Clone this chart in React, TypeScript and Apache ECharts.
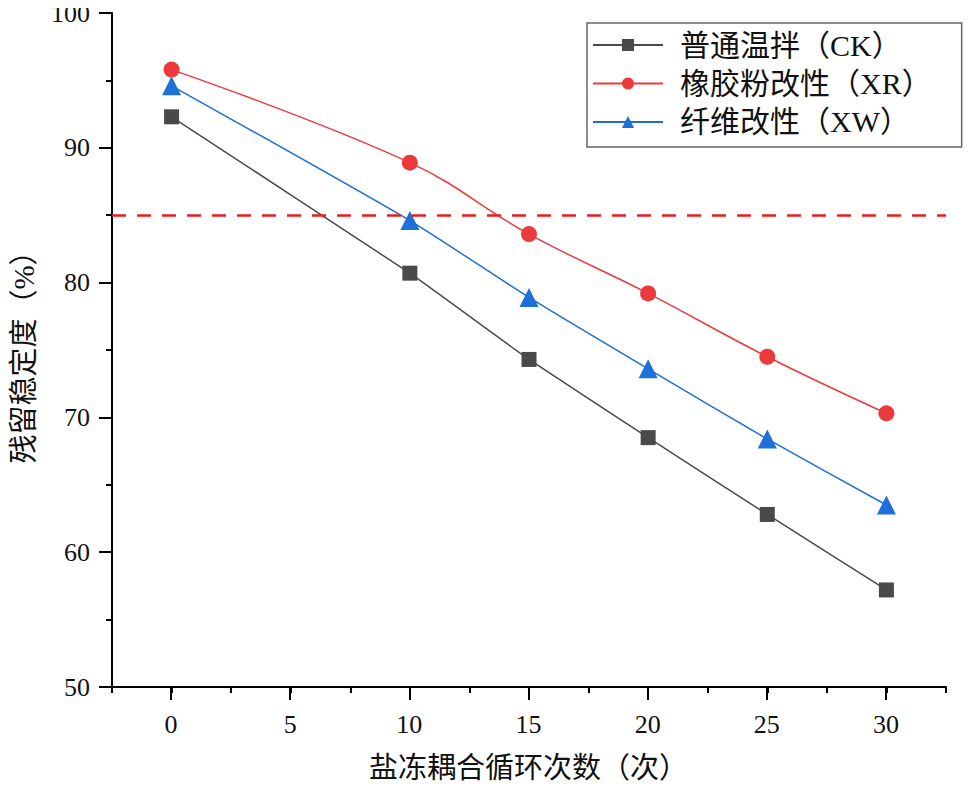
import React, { useEffect, useRef } from "react";
import * as echarts from "echarts";

const cycles = [0, 10, 15, 20, 25, 30];
const ckValues = [92.3, 80.7, 74.3, 68.5, 62.8, 57.2];
const xrValues = [95.8, 88.9, 83.6, 79.2, 74.5, 70.3];
const xwValues = [94.6, 84.6, 78.9, 73.6, 68.4, 63.5];
const seriesNames = ["普通温拌（CK）", "橡胶粉改性（XR）", "纤维改性（XW）"];
const thresholdValue = 85;
const xAxisName = "盐冻耦合循环次数（次）";
const yAxisName = "残留稳定度（%）";

const FONT = "'Liberation Serif', 'Noto Sans CJK SC', serif";

export default function App() {
  const ref = useRef<HTMLDivElement>(null);
  useEffect(() => {
    if (!ref.current) return;
    const chart = echarts.init(ref.current, undefined, { renderer: "svg" });
    const pair = (vals: number[]) => cycles.map((c, i) => [c, vals[i]]);
    const tickLabel = { fontSize: 26, color: "#111", fontFamily: FONT };
    chart.setOption({
      animation: false,
      backgroundColor: "#ffffff",
      textStyle: { fontFamily: FONT },
      grid: [
        { left: 112, right: 25, top: 12, bottom: 103 },
        { left: 171, right: 85, top: 12, bottom: 103 },
      ],
      legend: {
        orient: "vertical",
        left: 587,
        top: 23,
        width: 377,
        padding: [7, 30, 10, 5],
        itemGap: 8.5,
        itemWidth: 70,
        itemHeight: 15,
        borderColor: "#666",
        borderWidth: 1.5,
        textStyle: { fontSize: 30, color: "#111", fontFamily: FONT, padding: [0, 0, 0, 12] },
        data: seriesNames,
      },
      xAxis: [
        {
          type: "value",
          gridIndex: 0,
          min: -2.5,
          max: 32.5,
          interval: 2.5,
          axisLine: { show: true, onZero: false, lineStyle: { color: "#000", width: 2 } },
          axisTick: { show: true, length: 6, lineStyle: { color: "#000", width: 2 } },
          axisLabel: { show: false },
          splitLine: { show: false },
        },
        {
          type: "value",
          gridIndex: 1,
          min: 0,
          max: 30,
          interval: 5,
          axisLine: { show: false, onZero: false },
          axisTick: { show: true, length: 13, lineStyle: { color: "#000", width: 2 } },
          axisLabel: { show: true, margin: 24, ...tickLabel },
          splitLine: { show: false },
          name: xAxisName,
          nameLocation: "middle",
          nameGap: 66,
          nameMoveOverlap: false,
          nameTextStyle: { fontSize: 29, color: "#111", fontFamily: FONT },
        },
      ],
      yAxis: [
        {
          type: "value",
          gridIndex: 0,
          min: 50,
          max: 100,
          interval: 10,
          axisLine: { show: true, onZero: false, lineStyle: { color: "#000", width: 2 } },
          axisTick: { show: true, length: 13, lineStyle: { color: "#000", width: 2 } },
          minorTick: { show: true, splitNumber: 2, length: 6, lineStyle: { color: "#000", width: 2 } },
          axisLabel: { margin: 22, ...tickLabel },
          splitLine: { show: false },
          name: yAxisName,
          nameLocation: "middle",
          nameGap: 74,
          nameRotate: 90,
          nameMoveOverlap: false,
          nameTextStyle: { fontSize: 29, color: "#111", fontFamily: FONT },
        },
        {
          type: "value",
          gridIndex: 1,
          min: 50,
          max: 100,
          show: false,
          axisLine: { show: false, onZero: false },
          axisTick: { show: false },
          axisLabel: { show: false },
          splitLine: { show: false },
        },
      ],
      series: [
        {
          name: seriesNames[0],
          type: "line",
          xAxisIndex: 0,
          yAxisIndex: 0,
          data: pair(ckValues),
          smooth: 0.1,
          symbol: "rect",
          symbolSize: 15,
          itemStyle: { color: "#4a4a4a" },
          lineStyle: { color: "#4a4a4a", width: 1.5 },
          markLine: {
            silent: true,
            symbol: "none",
            label: { show: false },
            lineStyle: { color: "#ee1c1c", type: [14, 11], width: 2.5 },
            data: [{ yAxis: thresholdValue }],
          },
        },
        {
          name: seriesNames[1],
          type: "line",
          xAxisIndex: 0,
          yAxisIndex: 0,
          data: pair(xrValues),
          smooth: 0.4,
          symbol: "circle",
          symbolSize: 16,
          itemStyle: { color: "#ec3a3c" },
          lineStyle: { color: "#ec3a3c", width: 1.5 },
        },
        {
          name: seriesNames[2],
          type: "line",
          xAxisIndex: 0,
          yAxisIndex: 0,
          data: pair(xwValues),
          smooth: 0.2,
          symbol: "triangle",
          symbolSize: 19,
          itemStyle: { color: "#1f6fd8" },
          lineStyle: { color: "#1f6fd8", width: 1.5 },
        },
      ],
    });
    return () => chart.dispose();
  }, []);
  return <div ref={ref} style={{ width: 971, height: 790, margin: -8 }} />;
}
